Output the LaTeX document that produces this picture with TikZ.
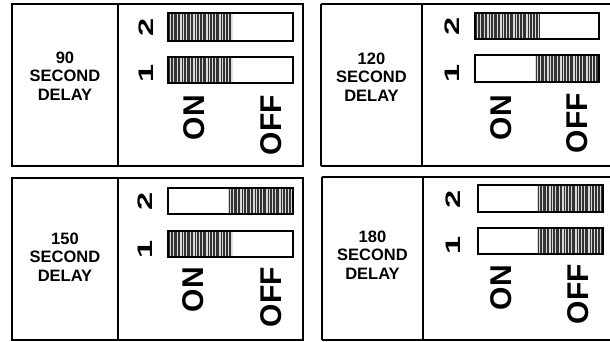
\documentclass[tikz,border=0pt]{standalone}
\usepackage{fontspec}
\setmainfont{Liberation Sans}
\tikzset{
  frame/.style={line width=2.6pt, draw=black},
  swbox/.style={line width=1.8pt, draw=black},
  delaytxt/.style={font=\bfseries\fontsize{16.5}{18.5}\selectfont, align=center, inner sep=0pt},
  onoff/.style={font=\bfseries\fontsize{30}{30}\selectfont, rotate=90, anchor=east, inner sep=0pt},
  digit/.style={font=\bfseries\fontsize{21}{21}\selectfont, rotate=90, inner sep=0pt},
}
\newcommand\wdig[1]{\scalebox{1.55}[1]{#1}}
% hatched part of a switch: x1,y1,x2,y2
\newcommand\myhatch[4]{%
  \begin{scope}
    \clip (#1,#2) rectangle (#3,#4);
    \fill[gray!30] (#1,#2) rectangle (#3,#4);
    \foreach \k in {0,...,46} {
      \pgfmathsetmacro\xx{#1+\k*1.45}
      \pgfmathtruncatemacro\mm{mod(\k,9)}
      \ifnum\mm=0\relax\else
      \draw[line width=0.55pt, black!80] (\xx,#2) -- (\xx,#4);
      \fi
    }
  \end{scope}}
\begin{document}
\begin{tikzpicture}[x=1pt,y=-1pt]
\useasboundingbox (0,0) rectangle (610,341);
\clip (0,0) rectangle (610,341);
\fill[white] (0,0) rectangle (610,341);

% ---------- top left: 90 ----------
\draw[frame] (12,4) rectangle (303,166);
\draw[frame] (118,4) -- (118,166);
\node[delaytxt] (tlt) at (65,76) {90\\SECOND\\DELAY};
\myhatch{168}{13}{232}{41}
\myhatch{168}{57}{232}{83}
\draw[swbox] (168,13) rectangle (293,41);
\draw[swbox] (168,57) rectangle (293,83);
\node[digit] (tld2) at (146.5,27) {\wdig{2}};
\node[digit] (tld1) at (146.5,73) {\wdig{1}};
\node[onoff] (tlon) at (194,95) {ON};
\node[onoff] (tloff) at (271,95) {OFF};

% ---------- top right: 120 ----------
\draw[frame] (321,4) -- (615,4);
\draw[frame] (321,166) -- (615,166);
\draw[frame] (321,4) -- (321,166);
\draw[frame] (422,4) -- (422,166);
\node[delaytxt] (trt) at (371.5,77) {120\\SECOND\\DELAY};
\myhatch{475}{13}{540}{39}
\myhatch{535}{55}{599}{82}
\draw[swbox] (475,13) rectangle (599,39);
\draw[swbox] (475,55) rectangle (599,82);
\node[digit] (trd2) at (452,26) {\wdig{2}};
\node[digit] (trd1) at (452,73) {\wdig{1}};
\node[onoff] (tron) at (501,95) {ON};
\node[onoff] (troff) at (577,93) {OFF};

% ---------- bottom left: 150 ----------
\draw[frame] (12,178) rectangle (303,340);
\draw[frame] (118,178) -- (118,340);
\node[delaytxt] (blt) at (65,257) {150\\SECOND\\DELAY};
\myhatch{228}{188}{293}{214}
\myhatch{168}{231}{232}{257}
\draw[swbox] (168,188) rectangle (293,214);
\draw[swbox] (168,231) rectangle (293,257);
\node[digit] (bld2) at (145,201) {\wdig{2}};
\node[digit] (bld1) at (145,249) {\wdig{1}};
\node[onoff] (blon) at (193,267) {ON};
\node[onoff] (bloff) at (271.5,267) {OFF};

% ---------- bottom right: 180 ----------
\draw[frame] (322,177) -- (615,177);
\draw[frame] (322,340) -- (615,340);
\draw[frame] (322,177) -- (322,340);
\draw[frame] (423,177) -- (423,340);
\node[delaytxt] (brt) at (372.5,255) {180\\SECOND\\DELAY};
\myhatch{537}{185}{603}{212}
\myhatch{537}{228}{603}{254}
\draw[swbox] (478,185) rectangle (603,212);
\draw[swbox] (478,228) rectangle (603,254);
\node[digit] (brd2) at (453.5,199) {\wdig{2}};
\node[digit] (brd1) at (453.5,245) {\wdig{1}};
\node[onoff] (bron) at (501.5,265) {ON};
\node[onoff] (broff) at (578,264) {OFF};
\end{tikzpicture}
\end{document}
